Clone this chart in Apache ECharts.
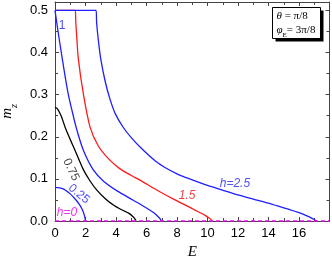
<!DOCTYPE html>
<html><head><meta charset="utf-8">
<script src="https://cdn.jsdelivr.net/npm/echarts@6/dist/echarts.min.js"></script>
<style>html,body{margin:0;padding:0;background:#fff}#c{width:332px;height:261px}</style>
</head><body><div id="c"></div>
<script>
// Data (E, m_z)
var h025 = [[0,0.080],[0.5,0.077],[0.98,0.065],[1.35,0.051],[1.64,0.037],[1.85,0.022],[1.95,0.010],[1.99,0.003],[2.0,0]];
var h075 = [[0,0.270],[0.15,0.267],[0.4,0.250],[0.72,0.217],[1.31,0.168],[1.86,0.122],[2.3,0.095],[2.73,0.074],[3.3,0.053],[3.83,0.038],[4.4,0.026],[4.85,0.018],[5.12,0.010],[5.26,0.004],[5.31,0]];
var h1 = [[0,0.5],[0.2,0.45],[0.5,0.38],[0.85,0.305],[1.15,0.257],[1.42,0.218],[1.86,0.168],[2.5,0.122],[3.2,0.094],[4.1,0.071],[5.1,0.050],[6.0,0.031],[6.5,0.019],[6.8,0.009],[6.93,0.003],[6.97,0]];
var h15 = [[0,0.5],[1.33,0.5],[1.36,0.475],[1.42,0.44],[1.53,0.385],[1.86,0.302],[2.3,0.223],[2.84,0.178],[3.5,0.148],[4.22,0.125],[5.0,0.108],[5.57,0.097],[6.7,0.073],[7.87,0.050],[9.18,0.026],[9.84,0.0135],[10.15,0.006],[10.28,0.002],[10.3,0]];
var h25 = [[0,0.5],[2.69,0.5],[2.73,0.47],[2.84,0.43],[3.0,0.385],[3.3,0.33],[3.6,0.29],[3.95,0.255],[4.48,0.222],[5.0,0.198],[5.68,0.172],[6.56,0.143],[7.21,0.127],[8.0,0.112],[8.74,0.101],[9.8,0.087],[10.93,0.074],[12.0,0.062],[13.1,0.051],[14.2,0.040],[15.3,0.028],[16.0,0.020],[16.4,0.014],[16.8,0.0075],[17.05,0.0025],[17.16,0]];
var h0 = [[0,0],[18,0]];
var xTicks = [0,2,4,6,8,10,12,14,16];
var yTicks = ['0.0','0.1','0.2','0.3','0.4','0.5'];
var curveLabels = [
  {name:'1', coord:[0.46,0.464], color:'#2222ee', rotate:0, italic:false},
  {name:'0.75', coord:[1.05,0.122], color:'#111', rotate:-65, italic:false},
  {name:'0.25', coord:[1.57,0.064], color:'#2222ee', rotate:-40, italic:false},
  {name:'h=0', coord:[0.79,0.019], color:'#ee00ee', rotate:0, italic:true},
  {name:'1.5', coord:[8.66,0.059], color:'#ee1111', rotate:0, italic:true},
  {name:'h=2.5', coord:[11.8,0.089], color:'#2222ee', rotate:0, italic:true}
];

var BLUE='#1f1fff', RED='#ff1a1a', BLACK='#000', MAG='#ff00ff', AX='#444';
var chart = echarts.init(document.getElementById('c'), null, {renderer:'canvas'});
function line(data,color,extra){
  var s = {type:'line', data:data, showSymbol:false, symbol:'none', smooth:0.3,
    lineStyle:{color:color,width:1.3}, z:3, animation:false, silent:true};
  for (var k in extra) s[k]=extra[k];
  return s;
}
var labelSeries = {
  type:'scatter', symbolSize:0, silent:true, animation:false, z:5,
  data: curveLabels.map(function(l){
    var txt = l.name;
    if (txt.indexOf('h=')===0) txt = '{h|h}' + '{n|' + txt.slice(1) + '}';
    else txt = '{n|' + txt + '}';
    return {value:l.coord, label:{show:true, position:'inside', formatter:txt, rotate:l.rotate,
      rich:{h:{fontStyle:'italic', color:l.color, fontSize:12, fontFamily:'Liberation Sans'},
            n:{fontStyle:l.italic?'italic':'normal', color:l.color, fontSize:12, fontFamily:'Liberation Sans'}}}};
  })
};
var axisFont = {fontFamily:'Liberation Sans', fontSize:13, color:'#000'};
var option = {
  animation:false,
  backgroundColor:'#fff',
  grid:{left:55, top:2, width:274.5, height:219, containLabel:false, outerBoundsMode:'none'},
  xAxis:[{
    type:'value', min:0, max:18, interval:2, position:'bottom',
    name:'E', nameLocation:'middle', nameGap:22,
    nameTextStyle:{fontFamily:'Liberation Serif', fontStyle:'italic', fontSize:15, color:'#000'},
    axisLine:{show:true, lineStyle:{color:AX, width:1}},
    axisTick:{show:true, inside:true, length:4, lineStyle:{color:AX}},
    minorTick:{show:true, splitNumber:2, length:3, lineStyle:{color:AX}},
    axisLabel:Object.assign({margin:6, showMaxLabel:false, formatter:function(v){return xTicks.indexOf(v)>=0?String(v):'';}}, axisFont),
    splitLine:{show:false}
  },{
    type:'value', min:0, max:18, interval:2, position:'top',
    axisLine:{show:true, onZero:false, lineStyle:{color:AX, width:1}},
    axisTick:{show:true, inside:true, length:4, lineStyle:{color:AX}},
    minorTick:{show:true, splitNumber:2, length:3, lineStyle:{color:AX}},
    axisLabel:{show:false}, splitLine:{show:false}
  }],
  yAxis:[{
    type:'value', min:0, max:0.52, interval:0.1, position:'left',
    name:'{m|m}{z|z}', nameLocation:'middle', nameGap:33, nameRotate:90,
    nameTextStyle:{rich:{m:{fontFamily:'Liberation Serif', fontStyle:'italic', fontSize:15, color:'#000'},
                         z:{fontFamily:'Liberation Serif', fontStyle:'italic', fontSize:10, color:'#000', verticalAlign:'bottom', padding:[0,0,-4,0]}}},
    axisLine:{show:true, onZero:false, lineStyle:{color:AX, width:1}},
    axisTick:{show:true, inside:true, length:4, lineStyle:{color:AX}},
    minorTick:{show:true, splitNumber:2, length:3, lineStyle:{color:AX}},
    axisLabel:Object.assign({margin:7, showMaxLabel:false, formatter:function(v){var s=v.toFixed(1);return yTicks.indexOf(s)>=0 && Math.abs(v*10-Math.round(v*10))<1e-6?s:'';}}, axisFont),
    splitLine:{show:false}
  },{
    type:'value', min:0, max:0.52, interval:0.1, position:'right',
    axisLine:{show:true, onZero:false, lineStyle:{color:AX, width:1}},
    axisTick:{show:true, inside:true, length:4, lineStyle:{color:AX}},
    minorTick:{show:true, splitNumber:2, length:3, lineStyle:{color:AX}},
    axisLabel:{show:false}, splitLine:{show:false}
  }],
  graphic:[{
    type:'group', left:272, top:7, z:10,
    children:[
      {type:'rect', shape:{x:3,y:3,width:48,height:31}, style:{fill:'#000'}},
      {type:'rect', shape:{x:0,y:0,width:48,height:31}, style:{fill:'#fff', stroke:'#000', lineWidth:1}},
      {type:'text', x:4, y:3, style:{text:'{i|θ} = π/8', rich:{i:{fontStyle:'italic', fontFamily:'Liberation Serif', fontSize:11}}, fontFamily:'Liberation Serif', fontSize:11, fill:'#000'}},
      {type:'text', x:4, y:17, style:{text:'{i|φ}{s|E}= 3π/8', rich:{i:{fontStyle:'italic', fontFamily:'Liberation Serif', fontSize:11}, s:{fontFamily:'Liberation Serif', fontSize:7, verticalAlign:'bottom', padding:[0,0,-3,0]}}, fontFamily:'Liberation Serif', fontSize:11, fill:'#000'}}
    ]
  }],
  series:[
    line(h0, MAG, {smooth:false, lineStyle:{color:MAG, width:1.6, type:[4,3]}, z:4}),
    line(h025, BLUE),
    line(h075, BLACK),
    line(h1, BLUE),
    line(h15, RED),
    line(h25, BLUE),
    labelSeries
  ]
};
chart.setOption(option);
</script></body></html>
